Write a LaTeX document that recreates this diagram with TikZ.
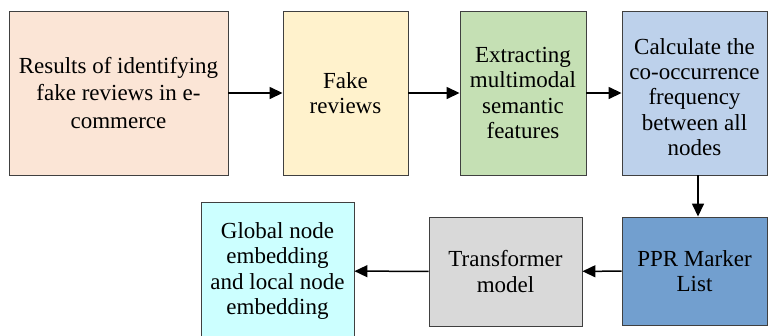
\documentclass[tikz,border=0pt]{standalone}
\usepackage{fontspec}
\setmainfont{Liberation Serif}
\usetikzlibrary{arrows.meta}
\definecolor{cpeach}{HTML}{FBE5D6}
\definecolor{cyell}{HTML}{FFF2CC}
\definecolor{cgreen}{HTML}{C5E0B4}
\definecolor{clblue}{HTML}{BDD1EB}
\definecolor{cdblue}{HTML}{729FCF}
\definecolor{cgray}{HTML}{D9D9D9}
\definecolor{ccyan}{HTML}{CCFFFF}
\definecolor{cedge}{HTML}{404040}
\tikzset{
  box/.style={draw=cedge, line width=0.9pt, align=center, inner sep=0pt,
    font=\fontsize{23}{25.2}\selectfont},
  txt/.style={align=center, inner sep=0pt, font=\fontsize{23}{25.2}\selectfont},
  arr/.style={draw=black, line width=1.5pt, -{Triangle[length=13pt,width=12pt]}}
}
\begin{document}
\begin{tikzpicture}[x=1pt,y=-1pt]
\useasboundingbox (0,0) rectangle (768,335);
\node[box, fill=cpeach, minimum width=219pt, minimum height=164pt, font=\fontsize{23}{27.8}\selectfont] (b1) at (118.5,93) {Results of identifying\\fake reviews in e-\\commerce};
\node[box, fill=cyell, minimum width=125pt, minimum height=164pt] (b2) at (345.5,93) {Fake\\reviews};
\node[box, fill=cgreen, minimum width=126pt, minimum height=164pt] (b3) at (523,93) {Extracting\\multimodal\\semantic\\features};
\node[box, fill=clblue, minimum width=145pt, minimum height=164pt] (b4) at (694.5,93) {};
\node[txt] (b4t) at ([yshift=-4pt]b4.center) {Calculate the\\co-occurrence\\frequency\\between all\\nodes};
\node[box, fill=cdblue, minimum width=145pt, minimum height=108pt] (b5) at (694.5,271) {PPR Marker\\List};
\node[box, fill=cgray, minimum width=153pt, minimum height=109pt] (b6) at (505.5,271.5) {Transformer\\model};
\node[box, fill=ccyan, minimum width=153pt, minimum height=138pt] (b7) at (277.5,271) {Global node\\embedding\\and local node\\embedding};
\draw[arr] (b1) -- (b2);
\draw[arr] (b2) -- (b3);
\draw[arr] (b3) -- (b4);
\draw[arr] ([xshift=3.5pt]b4.south) -- ([xshift=3.5pt]b5.north);
\draw[arr] (b5) -- (b6);
\draw[arr] (b6) -- (b7);
\end{tikzpicture}
\end{document}
